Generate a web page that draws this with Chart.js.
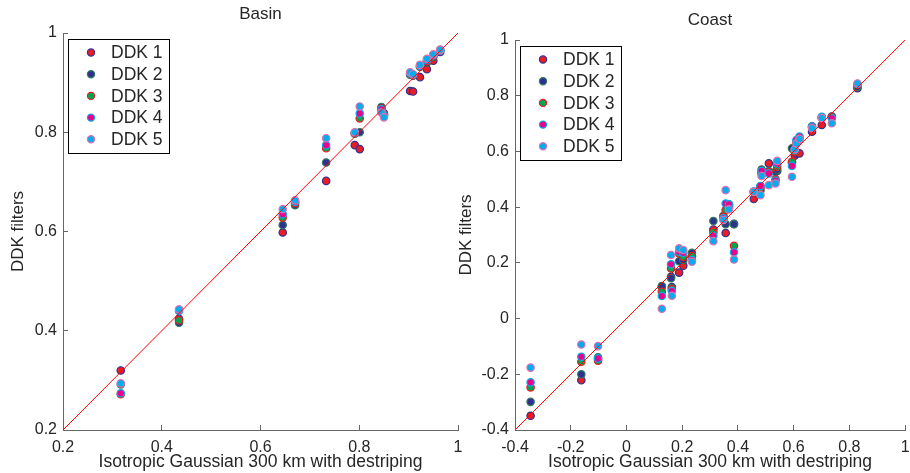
<!DOCTYPE html>
<html>
<head>
<meta charset="utf-8">
<title>DDK filters vs Isotropic Gaussian</title>
<script src="https://cdn.jsdelivr.net/npm/chart.js@4.4.1/dist/chart.umd.min.js"></script>
<style>
  html, body { margin: 0; padding: 0; background: #fff; overflow: hidden; }
  #wrap { position: relative; width: 910px; height: 473px; }
  canvas { position: absolute; top: 0; }
  #basin { left: 0; }
  #coast { left: 455px; }
</style>
</head>
<body>
<div id="wrap">
  <canvas id="basin" width="470" height="473"></canvas>
  <canvas id="coast" width="455" height="473"></canvas>
</div>
<script>
// values
const basinX    = [0.317, 0.435, 0.645, 0.670, 0.733, 0.791, 0.801, 0.845, 0.850, 0.903, 0.909, 0.923, 0.937, 0.950, 0.964];
const basinDDK1 = [0.320, 0.424, 0.598, 0.660, 0.702, 0.774, 0.766, 0.845, 0.838, 0.883, 0.882, 0.911, 0.927, 0.944, 0.962];
const basinDDK2 = [0.292, 0.416, 0.613, 0.653, 0.739, 0.797, 0.800, 0.851, 0.836, 0.916, 0.914, 0.932, 0.940, 0.952, 0.966];
const basinDDK3 = [0.272, 0.421, 0.628, 0.657, 0.768, 0.798, 0.828, 0.848, 0.835, 0.918, 0.915, 0.933, 0.943, 0.954, 0.965];
const basinDDK4 = [0.274, 0.440, 0.635, 0.660, 0.774, 0.799, 0.838, 0.846, 0.834, 0.919, 0.916, 0.934, 0.945, 0.955, 0.965];
const basinDDK5 = [0.294, 0.443, 0.645, 0.663, 0.788, 0.800, 0.852, 0.840, 0.830, 0.921, 0.917, 0.936, 0.948, 0.957, 0.966];

const coastX    = [-0.344, -0.162, -0.102, 0.127, 0.160, 0.163, 0.189, 0.204, 0.235, 0.312, 0.348, 0.356, 0.368, 0.386,
                   0.457, 0.481, 0.485, 0.511, 0.535, 0.541, 0.594, 0.604, 0.610, 0.621, 0.666, 0.701, 0.737, 0.829];
const coastDDK1 = [-0.349, -0.221, -0.145, 0.114, 0.150, 0.113, 0.165, 0.190, 0.225, 0.320, 0.360, 0.307, 0.400, 0.340,
                   0.429, 0.475, 0.520, 0.557, 0.527, 0.530, 0.560, 0.585, 0.593, 0.593, 0.671, 0.695, 0.725, 0.827];
const coastDDK2 = [-0.299, -0.200, -0.139, 0.117, 0.145, 0.110, 0.206, 0.210, 0.236, 0.350, 0.369, 0.339, 0.410, 0.339,
                   0.455, 0.460, 0.535, 0.530, 0.527, 0.535, 0.611, 0.605, 0.629, 0.645, 0.690, 0.722, 0.724, 0.832];
const coastDDK3 = [-0.247, -0.155, -0.151, 0.096, 0.180, 0.105, 0.234, 0.222, 0.224, 0.310, 0.365, 0.390, 0.405, 0.261,
                   0.455, 0.470, 0.525, 0.525, 0.500, 0.545, 0.563, 0.600, 0.635, 0.650, 0.688, 0.722, 0.722, 0.840];
const coastDDK4 = [-0.229, -0.137, -0.143, 0.081, 0.195, 0.099, 0.240, 0.236, 0.210, 0.297, 0.360, 0.413, 0.410, 0.238,
                   0.456, 0.476, 0.530, 0.521, 0.495, 0.557, 0.548, 0.605, 0.641, 0.653, 0.689, 0.724, 0.719, 0.842];
const coastDDK5 = [-0.176, -0.093, -0.099, 0.035, 0.228, 0.082, 0.252, 0.246, 0.204, 0.278, 0.354, 0.461, 0.392, 0.212,
                   0.455, 0.443, 0.512, 0.479, 0.485, 0.566, 0.509, 0.608, 0.629, 0.645, 0.683, 0.720, 0.701, 0.844];

const basinTicks = [0.2, 0.4, 0.6, 0.8, 1];
const coastTicks = [-0.4, -0.2, 0, 0.2, 0.4, 0.6, 0.8, 1];
const basinDiag = [0.2, 1];
const coastDiag = [-0.4, 1];

const seriesNames = ['DDK 1', 'DDK 2', 'DDK 3', 'DDK 4', 'DDK 5'];
const fillColors = ['#ed1c24', '#2e3192', '#00a651', '#ec008c', '#00aeef'];
const edgeColors = ['#2e3192', '#2f7a5a', '#ed1c24', '#00aeef', '#e36fb0'];

const FONT = "'Liberation Sans', Arial, sans-serif";
const TEXT = '#262626';
const AXIS = '#666666';

function pairs(xs, ys) {
  return xs.map((x, i) => ({ x: x, y: ys[i] }));
}

// title over the axes and a MATLAB style legend box in the top-left corner
const panelDecor = {
  id: 'panelDecor',
  afterDraw(chart, args, opts) {
    const ctx = chart.ctx;
    const area = chart.chartArea;
    ctx.save();
    ctx.fillStyle = TEXT;
    ctx.font = '17px ' + FONT;
    ctx.textAlign = 'center';
    ctx.textBaseline = 'middle';
    ctx.fillText(opts.title, (area.left + area.right) / 2, opts.titleY);

    const bx = area.left + 5, by = area.top + 6, bw = 101, bh = 114;
    ctx.fillStyle = '#fff';
    ctx.fillRect(bx, by, bw, bh);
    ctx.strokeStyle = '#000';
    ctx.lineWidth = 1;
    ctx.strokeRect(Math.round(bx) + 0.5, Math.round(by) + 0.5, bw, bh);
    ctx.font = '17.5px ' + FONT;
    seriesNames.forEach((name, i) => {
      const ry = by + 13.5 + i * 21.7;
      ctx.beginPath();
      ctx.arc(bx + 23, ry, 3.6, 0, Math.PI * 2);
      ctx.fillStyle = fillColors[i];
      ctx.fill();
      ctx.strokeStyle = edgeColors[i];
      ctx.lineWidth = 1.2;
      ctx.stroke();
      ctx.fillStyle = TEXT;
      ctx.textAlign = 'left';
      ctx.fillText(name, bx + 43, ry + 1);
    });
    ctx.restore();
  }
};

function makePanel(id, cfg) {
  const series = [cfg.y1, cfg.y2, cfg.y3, cfg.y4, cfg.y5];
  const datasets = series.map((ys, i) => ({
    label: seriesNames[i],
    data: pairs(cfg.x, ys),
    backgroundColor: fillColors[i],
    borderColor: edgeColors[i],
    borderWidth: 1.2,
    pointRadius: 3.7,
    pointHoverRadius: 3.7,
    order: 5 - i
  }));
  datasets.push({
    type: 'line',
    label: 'y = x',
    data: pairs(cfg.diag, cfg.diag),
    borderColor: '#ff0000',
    borderWidth: 1,
    pointRadius: 0,
    fill: false,
    order: 0
  });

  const axisCommon = {
    type: 'linear',
    min: cfg.ticks[0],
    max: cfg.ticks[cfg.ticks.length - 1],
    grid: { drawOnChartArea: false, drawTicks: true, tickLength: -5, color: AXIS },
    border: { display: true, color: AXIS, width: 1 },
    afterBuildTicks: scale => { scale.ticks = cfg.ticks.map(v => ({ value: v })); }
  };

  return new Chart(document.getElementById(id), {
    type: 'scatter',
    data: { datasets: datasets },
    options: {
      responsive: false,
      animation: false,
      events: [],
      layout: { padding: { left: 0, right: cfg.padRight, top: cfg.top, bottom: 0 } },
      plugins: {
        legend: { display: false },
        tooltip: { enabled: false },
        panelDecor: { title: cfg.title, titleY: cfg.titleY }
      },
      scales: {
        x: Object.assign({}, axisCommon, {
          position: 'bottom',
          ticks: { padding: 13, color: TEXT, font: { size: 16, family: FONT }, callback: v => String(v), maxRotation: 0, autoSkip: false },
          title: { display: true, text: 'Isotropic Gaussian 300 km with destriping', color: TEXT,
                   font: { size: 17.5, family: FONT }, padding: { top: 0, bottom: 0 } },
          afterFit: scale => { scale.height = 43; scale.paddingLeft = 0; scale.paddingRight = 0; }
        }),
        y: Object.assign({}, axisCommon, {
          position: 'left',
          ticks: { padding: 11, color: TEXT, font: { size: 16, family: FONT }, callback: v => String(v), autoSkip: false },
          title: { display: true, text: 'DDK filters', color: TEXT,
                   font: { size: 17, family: FONT }, padding: { top: cfg.yTitlePad, bottom: 0 } },
          afterFit: scale => { scale.width = cfg.yWidth; scale.paddingTop = 0; scale.paddingBottom = 0; }
        })
      }
    },
    plugins: [panelDecor]
  });
}

makePanel('basin', {
  x: basinX, y1: basinDDK1, y2: basinDDK2, y3: basinDDK3, y4: basinDDK4, y5: basinDDK5,
  ticks: basinTicks, diag: basinDiag, title: 'Basin',
  top: 33, titleY: 14, padRight: 12, yWidth: 63, yTitlePad: 8
});

makePanel('coast', {
  x: coastX, y1: coastDDK1, y2: coastDDK2, y3: coastDDK3, y4: coastDDK4, y5: coastDDK5,
  ticks: coastTicks, diag: coastDiag, title: 'Coast',
  top: 40, titleY: 20, padRight: 3, yWidth: 60, yTitlePad: 1
});
</script>
</body>
</html>
